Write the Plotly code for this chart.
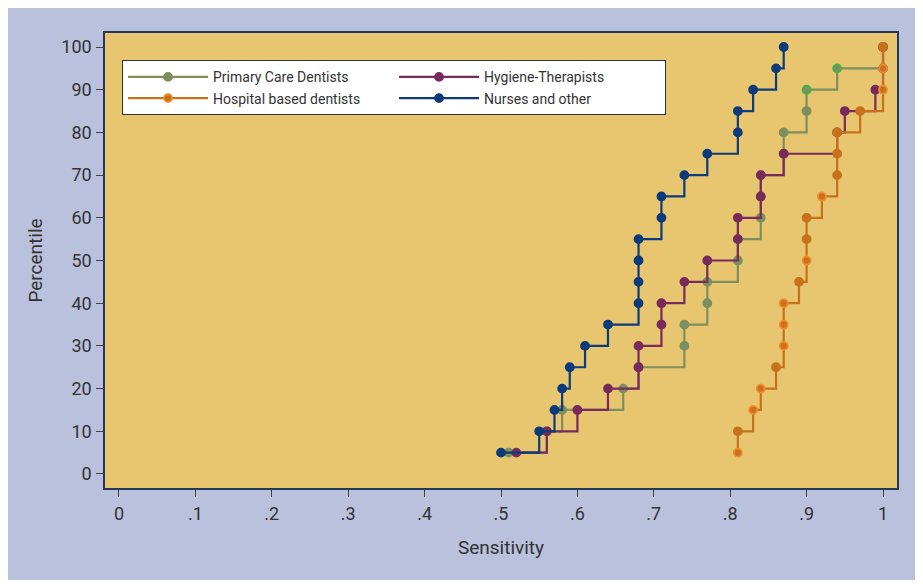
import plotly.graph_objects as go

# ---------------- data ----------------
percentile = [5, 10, 15, 20, 25, 30, 35, 40, 45, 50, 55, 60, 65, 70, 75, 80, 85, 90, 95, 100]

primary_care = [0.51, 0.56, 0.58, 0.66, 0.68, 0.74, 0.74, 0.77, 0.77, 0.81,
                0.81, 0.84, 0.84, 0.84, 0.87, 0.87, 0.90, 0.90, 0.94, 1.00]
hygiene_therapists = [0.52, 0.56, 0.60, 0.64, 0.68, 0.68, 0.71, 0.71, 0.74, 0.77,
                      0.81, 0.81, 0.84, 0.84, 0.87, 0.94, 0.95, 0.99, 1.00, 1.00]
hospital_based = [0.81, 0.81, 0.83, 0.84, 0.86, 0.87, 0.87, 0.87, 0.89, 0.90,
                  0.90, 0.90, 0.92, 0.94, 0.94, 0.94, 0.97, 1.00, 1.00, 1.00]
nurses_other = [0.50, 0.55, 0.57, 0.58, 0.59, 0.61, 0.64, 0.68, 0.68, 0.68,
                0.68, 0.71, 0.71, 0.74, 0.77, 0.81, 0.81, 0.83, 0.86, 0.87]

x_tickvals = [0, 0.1, 0.2, 0.3, 0.4, 0.5, 0.6, 0.7, 0.8, 0.9, 1.0]
x_ticktext = ["0", ".1", ".2", ".3", ".4", ".5", ".6", ".7", ".8", ".9", "1"]
y_tickvals = [0, 10, 20, 30, 40, 50, 60, 70, 80, 90, 100]

# ---------------- styles ----------------
SAND = "#e8c670"
OUTER = "#b9c1dc"
FRAME = "#26365a"
TEXT = "#333333"
FONT = "Roboto, Noto Sans, sans-serif"

green = "#7d8f5e"
green_hi = "#3db54a"
maroon = "#762b5b"
orange = "#c8711d"
orange_hi = "#f28b2e"
blue = "#0b3b7a"

# percentiles whose markers show a lighter ring in the original
green_ring_pct = {90, 95}
orange_ring_pct = {5, 15, 20, 30, 35, 40, 50, 65, 90, 95}

green_ring = [green_hi if p in green_ring_pct else green for p in percentile]
orange_ring = [orange_hi if p in orange_ring_pct else orange for p in percentile]

series = [
    ("Primary Care Dentists", primary_care, green, green_ring),
    ("Hygiene-Therapists", hygiene_therapists, maroon, maroon),
    ("Hospital based dentists", hospital_based, orange, orange_ring),
    ("Nurses and other", nurses_other, blue, blue),
]

fig = go.Figure()
for name, xs, col, ring in series:
    fig.add_trace(go.Scatter(
        x=xs, y=percentile, name=name, mode="lines+markers",
        line=dict(color=col, width=2.2, shape="hv"),
        marker=dict(color=col, size=8, line=dict(color=ring, width=1.8)),
    ))

fig.update_layout(
    width=915, height=576,
    margin=dict(l=97, r=26, t=25, b=96),
    paper_bgcolor="white",
    plot_bgcolor=SAND,
    font=dict(family=FONT, color=TEXT, size=16),
    showlegend=True,
    legend=dict(
        orientation="h", x=0.0215, y=0.94, xanchor="left", yanchor="top",
        bgcolor="white", bordercolor="#333333", borderwidth=1,
        font=dict(size=14, family=FONT, color=TEXT),
        entrywidth=176, itemwidth=80, traceorder="normal",
    ),
    shapes=[
        dict(type="rect", xref="paper", yref="paper", x0=-0.1225, x1=1.0265,
             y0=-0.2022, y1=1.0549, fillcolor=OUTER, line=dict(width=0), layer="below"),
        dict(type="rect", xref="paper", yref="paper", x0=0, x1=1, y0=0, y1=1,
             fillcolor=SAND, line=dict(width=0), layer="below"),
    ],
)

fig.update_xaxes(
    range=[-0.0183, 1.0183], tickvals=x_tickvals, ticktext=x_ticktext,
    ticks="outside", ticklen=7, tickwidth=1, tickcolor="#444444",
    ticklabelstandoff=2,
    showline=True, mirror=True, linecolor=FRAME, linewidth=1.5,
    showgrid=False, zeroline=False,
    tickfont=dict(size=18, family=FONT, color=TEXT),
    title=dict(text="Sensitivity", standoff=17, font=dict(size=19, family=FONT, color=TEXT)),
)
fig.update_yaxes(
    range=[-3.28, 103.28], tickvals=y_tickvals,
    ticks="outside", ticklen=7, tickwidth=1, tickcolor="#444444",
    ticklabelstandoff=1,
    showline=True, mirror=True, linecolor=FRAME, linewidth=1.5,
    showgrid=False, zeroline=False,
    tickfont=dict(size=18, family=FONT, color=TEXT),
    title=dict(text="Percentile", standoff=14, font=dict(size=19, family=FONT, color=TEXT)),
)

fig.write_html("out.html")
